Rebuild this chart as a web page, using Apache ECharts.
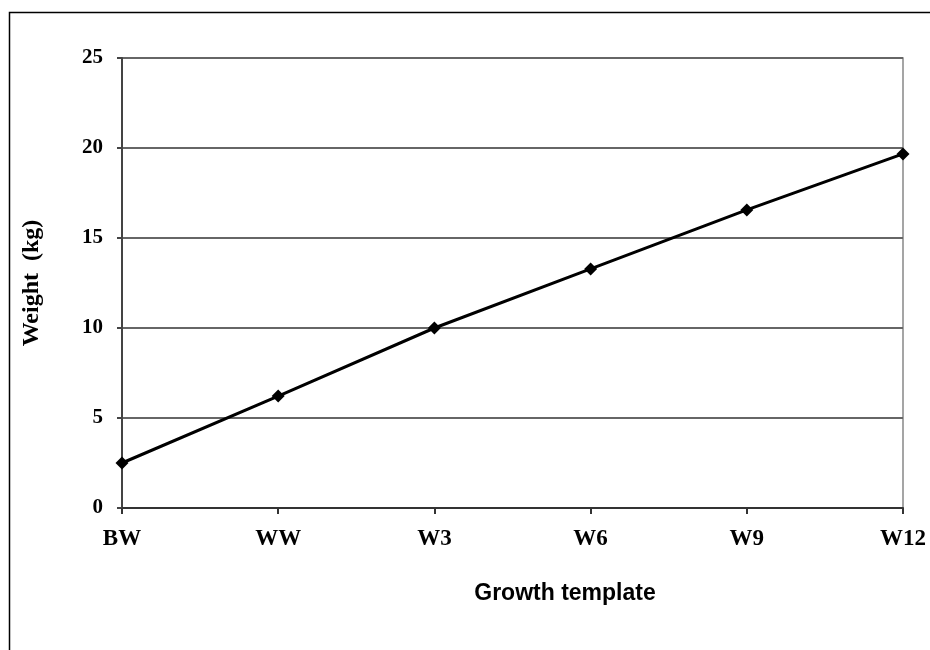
<!DOCTYPE html>
<html><head><meta charset="utf-8">
<script src="https://cdn.jsdelivr.net/npm/echarts@6/dist/echarts.min.js"></script>
<style>html,body{margin:0;padding:0;background:#fff}#c{width:930px;height:650px}</style>
</head><body><div id="c"></div>
<script>
const categories = ['BW','WW','W3','W6','W9','W12'];
const weights = [2.5, 6.22, 10.0, 13.28, 16.56, 19.67];
const yTicks = [0,5,10,15,20,25];

const chart = echarts.init(document.getElementById('c'));
chart.setOption({
  animation:false,
  backgroundColor:'#fff',
  graphic:[{type:'rect',shape:{x:9.5,y:12.5,width:1000,height:1000},style:{fill:'none',stroke:'#000',lineWidth:1.5},z:-1}],
  grid:{left:122,right:27,top:58,bottom:142,show:true,borderColor:'#888',borderWidth:1.5},
  xAxis:{type:'category',data:categories,boundaryGap:false,
    name:'Growth template',nameLocation:'middle',nameGap:74,
    nameTextStyle:{fontFamily:'Liberation Sans',fontWeight:'bold',fontSize:23,color:'#000',padding:[0,0,0,105]},
    axisLine:{lineStyle:{color:'#333',width:2}},
    axisTick:{show:true,length:6,lineStyle:{color:'#333',width:2}},
    axisLabel:{fontFamily:'Liberation Serif',fontWeight:'bold',fontSize:23,color:'#000',margin:20},
    splitLine:{show:false}},
  yAxis:{type:'value',min:0,max:25,interval:5,
    name:'Weight  (kg)',nameLocation:'middle',nameGap:78,
    nameTextStyle:{fontFamily:'Liberation Serif',fontWeight:'bold',fontSize:24,color:'#000'},
    axisLine:{show:true,lineStyle:{color:'#444',width:2}},
    axisTick:{show:true,length:5,lineStyle:{color:'#444',width:2}},
    axisLabel:{fontFamily:'Liberation Serif',fontWeight:'bold',fontSize:21,color:'#000',margin:19,
      formatter:v=>yTicks.includes(v)?String(v):''},
    splitLine:{show:true,lineStyle:{color:'#666',width:2}}},
  series:[{type:'line',data:weights,symbol:'diamond',symbolSize:13,
    lineStyle:{color:'#000',width:3},itemStyle:{color:'#000'}}]
});
</script></body></html>
